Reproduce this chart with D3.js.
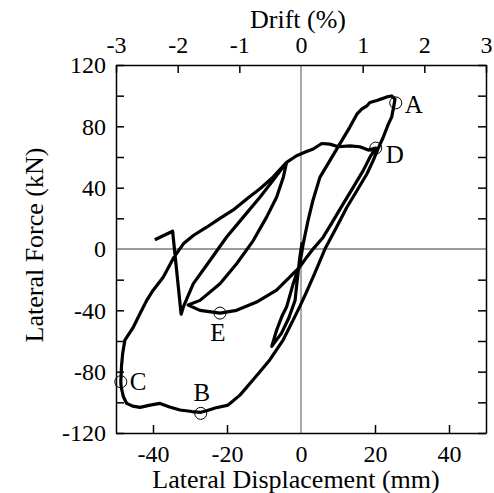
<!DOCTYPE html>
<html lang="en">
<head>
<meta charset="UTF-8">
<title>Lateral Force vs Lateral Displacement</title>
<script src="https://d3js.org/d3.v7.min.js"></script>
<style>
    body { margin: 0; background: #fff; }
    svg { display: block; font-family: "Liberation Serif", "Times New Roman", serif; }
    .axis path, .axis line { stroke: #000; stroke-width: 1.5; }
    .axis text { fill: #000; font-size: 24px; font-family: "Liberation Serif", "Times New Roman", serif; }
    .zero { stroke: #7a7a7a; stroke-width: 1.3; }
    .title { font-size: 26px; fill: #000; }
    .mark-label { font-size: 25px; fill: #000; }
</style>
</head>
<body>
<div id="chart"></div>
<script>

// hysteresis record, [displacement mm, force kN], in loading order
var cycleSmall = [
    [0.3, 4.4], [-0.3, -5], [-1.0, -20], [-1.6, -33.5], [-3.3, -45], [-5.3, -55], [-7.9, -63.5],
    [-6.6, -53], [-5.0, -43], [-3.9, -37.9], [-2.1, -22.6], [-0.3, -9.6], [0.6, 3.4]
];
var cyclePeakA = [
    [1.9, 18.5], [3.2, 31.5], [5.1, 46.7], [7.8, 57.6], [10.5, 68.6], [13.2, 79.5], [15.1, 87.9],
    [16.4, 91.2], [17.8, 93.3], [18.6, 95.5], [20.5, 96.8], [23.2, 99.2], [24.5, 99.8], [25.4, 97.7],
    [25.0, 92.2], [24.5, 86], [23.6, 81.4], [22.2, 72.7], [20.9, 65.8], [19.5, 57.6], [17.8, 48.9],
    [15.1, 38.0], [12.4, 27.2], [9.6, 14.2], [6.5, 0.1], [3.5, -17], [1.5, -28], [-0.3, -37.4],
    [-2.1, -46.2], [-4.8, -59.2], [-8.4, -72.2], [-11.1, -80.1], [-13.8, -87.7], [-16.5, -95.3],
    [-19.7, -101.8], [-23.2, -103.7], [-25.5, -105.5], [-27.1, -106.5]
];
var cycleOuter = [
    [-29.5, -106], [-32.7, -105.0], [-35.5, -103], [-38.1, -100.7], [-40.8, -101.8], [-43.5, -103.3],
    [-45.5, -102.5], [-47.1, -100.7], [-48.0, -96.4], [-48.6, -90], [-48.7, -86.6], [-48.5, -76],
    [-48.2, -68.2], [-47.6, -59.5], [-45.3, -50.9], [-43.5, -42.1], [-41.7, -33.5], [-40.0, -27],
    [-37.2, -18.3], [-34.5, -6], [-31.8, 3.4], [-29.1, 8.8], [-25.5, 14.2], [-21.9, 20.0],
    [-18.3, 25.5], [-14.5, 33], [-11.0, 39.5], [-7.5, 47], [-3.9, 56.5],
    [-1.2, 60.8], [1.5, 63.6], [3.3, 65.2], [5.6, 68.8], [7.8, 68.4], [10.1, 66.7], [13.2, 67.3],
    [15.9, 66.7], [18.2, 64.5], [20.2, 65.8]
];
var cycleReturn = [
    [18.6, 59.7], [16.8, 51.1], [14.1, 40.2], [11.4, 29.4], [8.7, 18.5], [6.0, 7.7], [3.3, 0.1],
    [1.5, -5.5], [-0.3, -11.7], [-3.0, -18.2], [-6.6, -26.8], [-12.0, -34.6], [-17.4, -40.0],
    [-21.9, -41.8], [-27.3, -40.0], [-30.5, -36.5]
];
var cycleInner = [
    [-27.3, -33.5], [-21.9, -22.6], [-17.4, -9.6], [-12.9, 5.5], [-9.3, 20.8], [-6.6, 33.8],
    [-4.8, 46.6], [-3.9, 56.5],
    [-7.6, 44.6], [-11.1, 33.8], [-15.6, 20.8], [-20.1, 7.8], [-24.6, -7.5], [-29.1, -22.6],
    [-31.8, -37.8], [-32.4, -42.5]
];
var unloadTail = [[-34.7, 11.6], [-39.5, 6.0]];

// labelled states
var markNames = ["A", "B", "C", "D", "E"];
var markDisp = [25.6, -27.1, -48.7, 20.2, -21.9];
var markForce = [95.3, -107.2, -86.6, 65.8, -41.8];

// axis ticks
var forceTicks = [-120, -100, -80, -60, -40, -20, 0, 20, 40, 60, 80, 100, 120];
var dispTicks = [-40, -20, 0, 20, 40];
var driftTicks = [-3, -2, -1, 0, 1, 2, 3];

var width = 494, height = 493;
var margin = {top: 65, right: 8, bottom: 60, left: 116};

var svg = d3.select("#chart").append("svg")
    .attr("width", width)
    .attr("height", height);

var x = d3.scaleLinear().domain([-50, 50]).range([margin.left, width - margin.right]);
var y = d3.scaleLinear().domain([-120, 120]).range([height - margin.bottom, margin.top]);
// drift in % of 1666.7 mm height -> same pixel span as +-50 mm
var xDrift = d3.scaleLinear().domain([-3, 3]).range(x.range());

// zero lines
svg.append("line").attr("class", "zero")
    .attr("x1", x(-50)).attr("x2", x(50)).attr("y1", y(0)).attr("y2", y(0));
svg.append("line").attr("class", "zero")
    .attr("x1", x(0)).attr("x2", x(0)).attr("y1", y(-120)).attr("y2", y(120));

function fmt(d) { return String(d); }

// left axis, labels every 40
var gLeft = svg.append("g").attr("class", "axis")
    .attr("transform", "translate(" + x(-50) + ",0)")
    .call(d3.axisLeft(y).tickValues(forceTicks).tickSize(-8).tickSizeOuter(0).tickPadding(10)
        .tickFormat(function(d) { return d % 40 === 0 ? fmt(d) : ""; }));

// right axis, ticks only
var gRight = svg.append("g").attr("class", "axis")
    .attr("transform", "translate(" + x(50) + ",0)")
    .call(d3.axisRight(y).tickValues(forceTicks).tickSize(-8).tickSizeOuter(0).tickFormat(""));

var gBottom = svg.append("g").attr("class", "axis")
    .attr("transform", "translate(0," + y(-120) + ")")
    .call(d3.axisBottom(x).tickValues(dispTicks).tickSize(-8).tickSizeOuter(0).tickPadding(12).tickFormat(fmt));

var gTop = svg.append("g").attr("class", "axis")
    .attr("transform", "translate(0," + y(120) + ")")
    .call(d3.axisTop(xDrift).tickValues(driftTicks).tickSize(-8).tickSizeOuter(0).tickPadding(12).tickFormat(fmt));

// the zero lines already run through the centre ticks
[gLeft, gRight, gBottom, gTop].forEach(function(g) {
    g.selectAll(".tick").filter(function(d) { return d === 0; }).select("line").remove();
    g.attr("font-size", null).attr("font-family", null);
});

// titles
svg.append("text").attr("class", "title")
    .attr("x", 298).attr("y", 28)
    .attr("text-anchor", "middle")
    .text("Drift (%)");

svg.append("text").attr("class", "title")
    .attr("x", 296).attr("y", 488)
    .attr("text-anchor", "middle")
    .text("Lateral Displacement (mm)");

svg.append("text").attr("class", "title")
    .attr("transform", "translate(43,245) rotate(-90)")
    .attr("text-anchor", "middle")
    .text("Lateral Force (kN)");

// hysteresis curve
var record = [].concat(cycleSmall, cyclePeakA, cycleOuter, cycleReturn, cycleInner, unloadTail);

var line = d3.line()
    .x(function(d) { return x(d[0]); })
    .y(function(d) { return y(d[1]); });

svg.append("path")
    .datum(record)
    .attr("d", line)
    .attr("fill", "none")
    .attr("stroke", "#000")
    .attr("stroke-width", 3.2)
    .attr("stroke-linejoin", "round");

// marked states
var labelPlace = {
    A: {dx: 9, dy: 10, anchor: "start"},
    B: {dx: 1, dy: -12, anchor: "middle"},
    C: {dx: 9, dy: 8, anchor: "start"},
    D: {dx: 10, dy: 15, anchor: "start"},
    E: {dx: -2, dy: 28, anchor: "middle"}
};

var marks = markNames.map(function(n, i) {
    return {name: n, disp: markDisp[i], force: markForce[i]};
});

var gMarks = svg.append("g").selectAll("g")
    .data(marks)
    .enter().append("g")
    .attr("transform", function(d) { return "translate(" + x(d.disp) + "," + y(d.force) + ")"; });

gMarks.append("circle")
    .attr("r", 6)
    .attr("fill", "none")
    .attr("stroke", "#000")
    .attr("stroke-width", 1);

gMarks.append("text")
    .attr("class", "mark-label")
    .attr("x", function(d) { return labelPlace[d.name].dx; })
    .attr("y", function(d) { return labelPlace[d.name].dy; })
    .attr("text-anchor", function(d) { return labelPlace[d.name].anchor; })
    .text(function(d) { return d.name; });

</script>
</body>
</html>
